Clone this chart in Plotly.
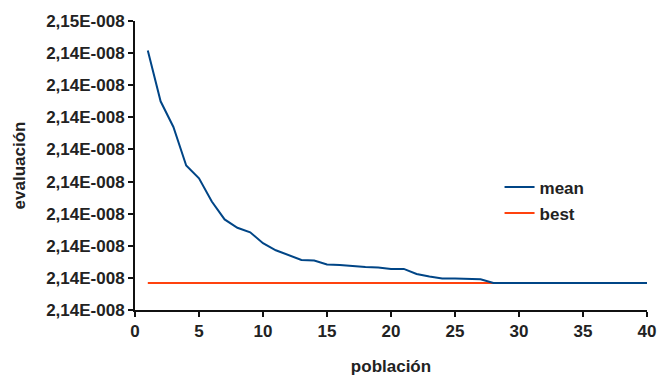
import plotly.graph_objects as go

poblacion = list(range(1, 41))
# mantissas (x 1e-8)
mean_m = [2.14454, 2.14375, 2.14335, 2.14275, 2.14255, 2.14219, 2.14191, 2.14178,
          2.14171, 2.14154, 2.14143, 2.14135, 2.14128, 2.14127, 2.14121, 2.14120,
          2.14118, 2.14117, 2.14116, 2.14114, 2.14114, 2.14106, 2.14102, 2.14099,
          2.14099, 2.14098, 2.14098, 2.14092, 2.14092, 2.14092, 2.14092, 2.14092,
          2.14092, 2.14092, 2.14092, 2.14092, 2.14092, 2.14092, 2.14092, 2.14092]
best_m = [2.14092] * 40

ytick_m = [2.1405, 2.1410, 2.1415, 2.1420, 2.1425, 2.1430, 2.1435, 2.1440, 2.1445, 2.1450]
ytick_text = ["2,14E-008"] * 9 + ["2,15E-008"]
xticks = [0, 5, 10, 15, 20, 25, 30, 35, 40]

scale = 1e-8
mean_v = [m * scale for m in mean_m]
best_v = [m * scale for m in best_m]
ytick_v = [m * scale for m in ytick_m]

font = dict(family="Liberation Sans, Arial, sans-serif", size=17, color="#222222", weight="bold")

fig = go.Figure()
fig.add_trace(go.Scatter(x=poblacion, y=best_v, mode="lines", name="best",
                         line=dict(color="#ff420e", width=2), legend="legend2"))
fig.add_trace(go.Scatter(x=poblacion, y=mean_v, mode="lines", name="mean",
                         line=dict(color="#004586", width=2), legend="legend"))

fig.update_layout(
    width=657, height=376,
    margin=dict(l=135, r=10, t=21, b=66),
    plot_bgcolor="white", paper_bgcolor="white",
    font=font,
    showlegend=True,
    legend=dict(x=0.712, y=0.486, xanchor="left", yanchor="top", bgcolor="rgba(0,0,0,0)",
                font=font),
    legend2=dict(x=0.712, y=0.396, xanchor="left", yanchor="top", bgcolor="rgba(0,0,0,0)",
                 font=font),
    xaxis=dict(range=[0, 40], tickvals=xticks, ticks="outside", ticklen=5, tickwidth=2,
               tickcolor="#111", showline=True, linecolor="#111", linewidth=2,
               showgrid=False, zeroline=False, tickfont=font, automargin=False,
               title=dict(text="población", font=font, standoff=26)),
    yaxis=dict(range=[ytick_v[0], ytick_v[-1]], tickvals=ytick_v, ticktext=ytick_text,
               ticks="outside", ticklen=5, tickwidth=2, tickcolor="#111",
               showline=True, linecolor="#111", linewidth=2, showgrid=False,
               zeroline=False, tickfont=font, automargin=False,
               title=dict(text="evaluación", font=font, standoff=16)),
)

fig.write_html("out.html")
